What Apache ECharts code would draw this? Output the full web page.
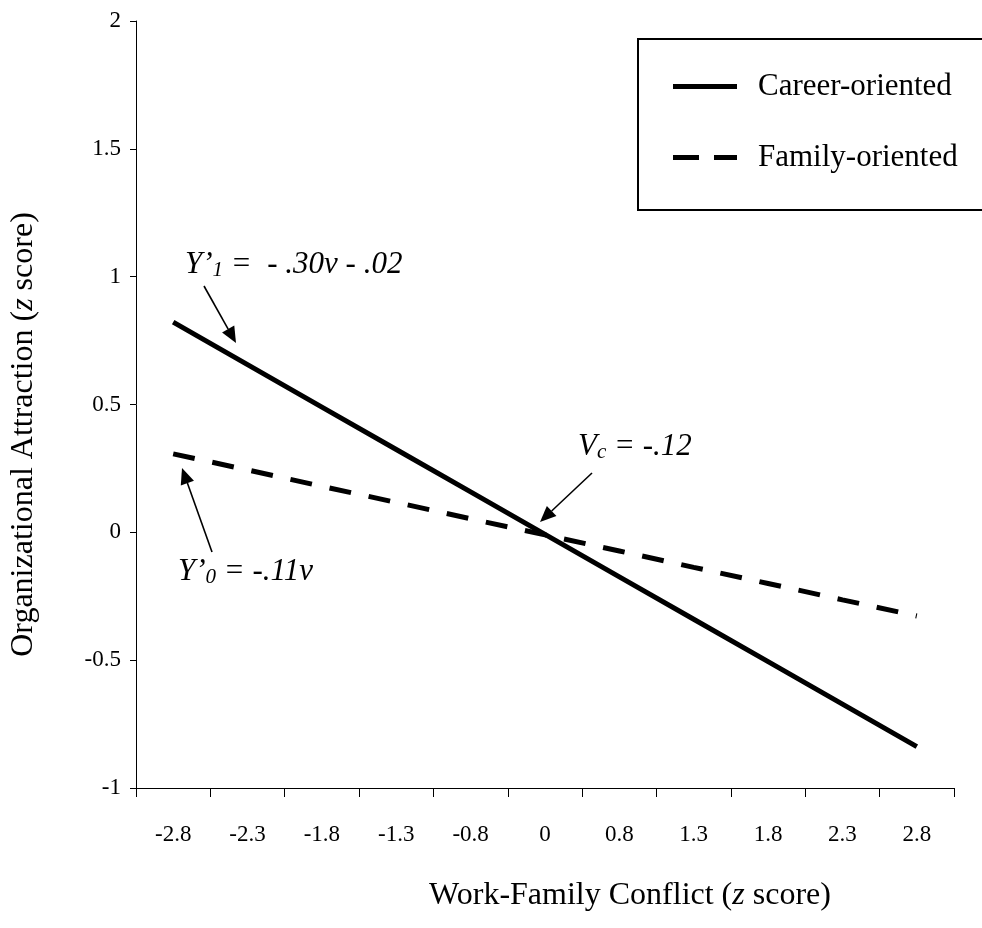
<!DOCTYPE html>
<html>
<head>
<meta charset="utf-8">
<script src="https://cdn.jsdelivr.net/npm/echarts@6/dist/echarts.min.js"></script>
<style>
html,body{margin:0;padding:0;background:#fff;}
#chart{width:982px;height:928px;}
</style>
</head>
<body>
<div id="chart"></div>
<script>
// ---- data ----
var categories = ['-2.8','-2.3','-1.8','-1.3','-0.8','0','0.8','1.3','1.8','2.3','2.8'];
var careerValues = [0.822, 0.656, 0.49, 0.324, 0.158, -0.008, -0.174, -0.34, -0.506, -0.672, -0.838];
var familyValues = [0.307, 0.244, 0.18, 0.117, 0.053, -0.01, -0.073, -0.137, -0.2, -0.264, -0.327];
var seriesNames = ['Career-oriented', 'Family-oriented'];
var yTicks = {min: -1, max: 2, interval: 0.5};

var serif = '"Liberation Serif", "Times New Roman", serif';
var chart = echarts.init(document.getElementById('chart'), null, {renderer: 'canvas'});

function arrow(x1, y1, x2, y2) {
  var dx = x2 - x1, dy = y2 - y1, len = Math.sqrt(dx*dx + dy*dy);
  var ux = dx/len, uy = dy/len, hl = 16, hw = 7;
  var bx = x2 - ux*hl, by = y2 - uy*hl;
  return {
    type: 'group',
    children: [
      {type: 'line', shape: {x1: x1, y1: y1, x2: bx, y2: by}, style: {stroke: '#000', lineWidth: 1.6}},
      {type: 'polygon', shape: {points: [[x2, y2], [bx - uy*hw, by + ux*hw], [bx + uy*hw, by - ux*hw]]}, style: {fill: '#000'}}
    ]
  };
}
var rich = {
  i: {fontFamily: serif, fontStyle: 'italic', fontSize: 31, color: '#000'},
  s: {fontFamily: serif, fontStyle: 'italic', fontSize: 21, color: '#000', verticalAlign: 'bottom', lineHeight: 24}
};

var option = {
  backgroundColor: '#fff',
  animation: false,
  grid: {left: 136, right: 28, top: 21, bottom: 140, containLabel: false, outerBoundsMode: 'none'},
  legend: {
    data: [
      {name: seriesNames[0], icon: 'path://M0,0 H64 V5 H0 Z'},
      {name: seriesNames[1], icon: 'path://M0,0 H26 V5 H0 Z M41,0 H64 V5 H41 Z'}
    ],
    orient: 'vertical',
    left: 668,
    top: 66,
    itemWidth: 64,
    itemHeight: 5,
    itemGap: 40,
    symbolKeepAspect: false,
    itemStyle: {color: '#000', borderWidth: 0},
    textStyle: {fontFamily: serif, fontSize: 31, color: '#000', padding: [0, 0, 0, 16]}
  },
  xAxis: {
    type: 'category',
    data: categories,
    boundaryGap: true,
    name: 'Work-Family Conflict ({iz|z} score)',
    nameLocation: 'middle',
    nameGap: 92,
    nameTextStyle: {fontFamily: serif, fontSize: 32, color: '#000', padding: [0, 0, 0, 170],
      rich: {iz: {fontFamily: serif, fontStyle: 'italic', fontSize: 32, color: '#000'}}},
    axisLine: {onZero: false, lineStyle: {color: '#000', width: 1}},
    axisTick: {show: true, length: 9, lineStyle: {color: '#000', width: 1}},
    axisLabel: {fontFamily: serif, fontSize: 23, color: '#000', margin: 35},
    splitLine: {show: false}
  },
  yAxis: {
    type: 'value',
    min: yTicks.min, max: yTicks.max, interval: yTicks.interval,
    name: 'Organizational Attraction ({iz|z} score)',
    nameLocation: 'middle',
    nameGap: 96,
    nameRotate: 90,
    nameTextStyle: {fontFamily: serif, fontSize: 32, color: '#000', padding: [0, 60, 0, 0],
      rich: {iz: {fontFamily: serif, fontStyle: 'italic', fontSize: 32, color: '#000'}}},
    axisLine: {show: true, onZero: false, lineStyle: {color: '#000', width: 1}},
    axisTick: {show: true, length: 6, lineStyle: {color: '#000', width: 1}},
    axisLabel: {fontFamily: serif, fontSize: 23, color: '#000', margin: 15},
    splitLine: {show: false}
  },
  series: [
    {
      name: seriesNames[0], type: 'line', data: careerValues,
      showSymbol: false, symbol: 'none', silent: true,
      lineStyle: {color: '#000', width: 5, cap: 'butt'},
      itemStyle: {color: '#000'}
    },
    {
      name: seriesNames[1], type: 'line', data: familyValues,
      showSymbol: false, symbol: 'none', silent: true,
      lineStyle: {color: '#000', width: 5, type: [22, 18], cap: 'butt'},
      itemStyle: {color: '#000'}
    }
  ],
  graphic: [
    {type: 'rect', shape: {x: 638, y: 39, width: 380, height: 171}, style: {fill: 'none', stroke: '#000', lineWidth: 2}, z: 10},
    {type: 'text', x: 185, y: 265, style: {text: '{i|Y’}{s|1}{i| =  - .30v - .02}', rich: rich, verticalAlign: 'middle', fill: '#000'}},
    {type: 'text', x: 178, y: 572, style: {text: '{i|Y’}{s|0}{i| = -.11v}', rich: rich, verticalAlign: 'middle', fill: '#000'}},
    {type: 'text', x: 578, y: 447, style: {text: '{i|V}{s|c}{i| = -.12}', rich: rich, verticalAlign: 'middle', fill: '#000'}},
    arrow(204, 286, 236, 343),
    arrow(212, 552, 182, 468),
    arrow(592, 473, 540, 522)
  ]
};
chart.setOption(option);
</script>
</body>
</html>
